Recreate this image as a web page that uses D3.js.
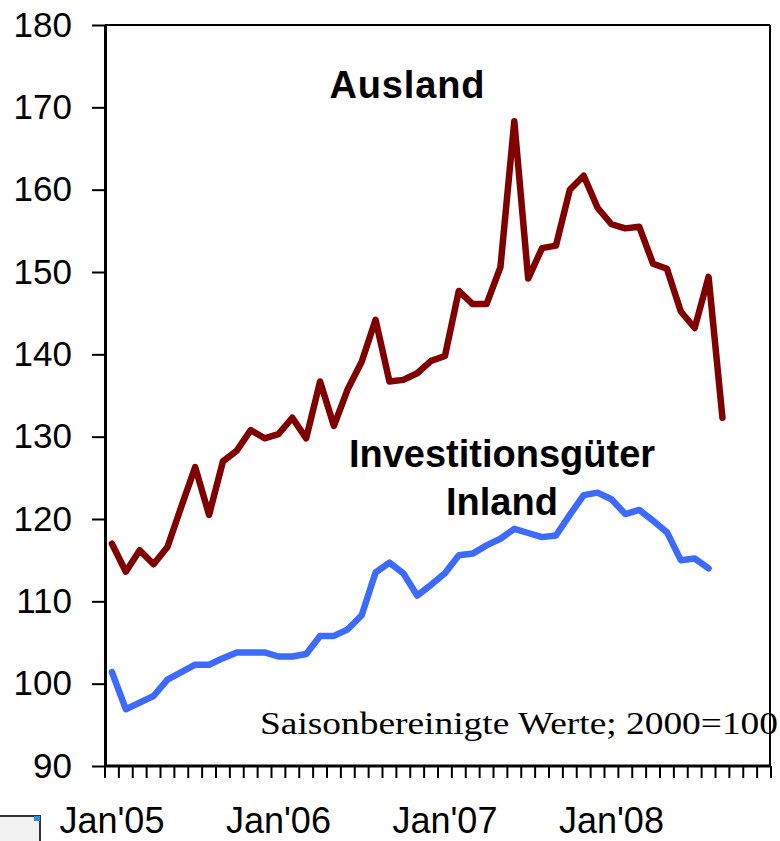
<!DOCTYPE html>
<html>
<head>
<meta charset="utf-8">
<script src="https://cdn.jsdelivr.net/npm/d3@7"></script>
<style>
  body { margin: 0; background: #fff; }
  svg text { font-family: Arial, "Liberation Sans", sans-serif; }
</style>
</head>
<body>
<div id="chart"></div>
<script>
// months Jan'05 .. Dec'08
const months = d3.range(48).map(i => new Date(2005, i, 1));
const monthKeys = months.map(d => d3.timeFormat("%Y-%m")(d));

// Investitionsgüter Ausland (2000=100)
const ausland = [117.0, 113.6, 116.2, 114.5, 116.6, 121.5, 126.3, 120.5, 127.0, 128.3,
  130.8, 129.8, 130.3, 132.3, 129.8, 136.7, 131.3, 135.8, 139.1, 144.2,
  136.7, 136.9, 137.7, 139.2, 139.8, 147.7, 146.1, 146.1, 150.6, 168.3,
  149.2, 152.9, 153.2, 160.0, 161.7, 157.8, 155.8, 155.3, 155.5, 151.0,
  150.4, 145.2, 143.2, 149.4, 132.3];

// Investitionsgüter Inland (2000=100)
const inland = [101.4, 96.9, 97.7, 98.5, 100.5, 101.4, 102.3, 102.3, 103.1, 103.8,
  103.8, 103.8, 103.3, 103.3, 103.6, 105.8, 105.8, 106.6, 108.3, 113.5,
  114.7, 113.4, 110.7, 112.0, 113.4, 115.6, 115.8, 116.8, 117.6, 118.8,
  118.3, 117.8, 118.0, 120.5, 122.9, 123.2, 122.4, 120.6, 121.1, 119.8,
  118.4, 115.0, 115.2, 114.0];

const yTicks = [90, 100, 110, 120, 130, 140, 150, 160, 170, 180];
const xLabels = ["Jan'05", "Jan'06", "Jan'07", "Jan'08"];
const xLabelKeys = ["2005-01", "2006-01", "2007-01", "2008-01"];

const W = 780, H = 841;
const m = { left: 105, right: 771, top: 25, bottom: 766 };

const svg = d3.select("#chart").append("svg")
  .attr("width", W).attr("height", H);

const x = d3.scaleBand().domain(monthKeys).range([m.left, m.right]).padding(0);
const y = d3.scaleLinear().domain([90, 180]).range([m.bottom, m.top]);
const cx = k => x(k) + x.bandwidth() / 2;

// frame: top and right border
svg.append("line").attr("x1", m.left).attr("x2", m.right - 1)
  .attr("y1", y(180)).attr("y2", y(180))
  .attr("stroke", "#000").attr("stroke-width", 2);
svg.append("line").attr("x1", m.right - 1).attr("x2", m.right - 1)
  .attr("y1", y(180)).attr("y2", y(90))
  .attr("stroke", "#000").attr("stroke-width", 2);

// y axis
const yAxis = svg.append("g")
  .attr("transform", `translate(${m.left},0)`)
  .call(d3.axisLeft(y).tickValues(yTicks).tickSize(13).tickPadding(20).tickSizeOuter(0));
yAxis.select(".domain").attr("stroke-width", 3);
yAxis.selectAll(".tick line").attr("stroke-width", 2);
yAxis.selectAll(".tick text")
  .style("font-size", "35px").attr("fill", "#000");

// x axis: ticks at every month boundary
const bounds = monthKeys.map(k => x(k)).concat([m.right]);
svg.append("line").attr("x1", m.left).attr("x2", m.right)
  .attr("y1", m.bottom).attr("y2", m.bottom)
  .attr("stroke", "#000").attr("stroke-width", 3);
svg.selectAll(".xtick").data(bounds).enter().append("line")
  .attr("class", "xtick")
  .attr("x1", d => d).attr("x2", d => d)
  .attr("y1", m.bottom).attr("y2", m.bottom + 12)
  .attr("stroke", "#000").attr("stroke-width", 2);

svg.selectAll(".xlab").data(xLabels).enter().append("text")
  .attr("class", "xlab")
  .attr("x", (d, i) => cx(xLabelKeys[i]))
  .attr("y", 833)
  .attr("text-anchor", "middle")
  .style("font-size", "36px")
  .text(d => d);

// lines
const line = d3.line()
  .x((d, i) => cx(monthKeys[i]))
  .y(d => y(d));

svg.append("path").datum(inland)
  .attr("d", line).attr("fill", "none")
  .attr("stroke", "#3d6bff").attr("stroke-width", 6.5)
  .attr("stroke-linejoin", "round").attr("stroke-linecap", "round");

svg.append("path").datum(ausland)
  .attr("d", line).attr("fill", "none")
  .attr("stroke", "#800000").attr("stroke-width", 6.5)
  .attr("stroke-linejoin", "round").attr("stroke-linecap", "round");

// labels
svg.append("text").attr("x", 407).attr("y", 98)
  .attr("text-anchor", "middle")
  .style("font-size", "38px").style("font-weight", "bold")
  .attr("textLength", 155).attr("lengthAdjust", "spacing")
  .text("Ausland");
svg.append("text").attr("x", 502).attr("y", 467)
  .attr("text-anchor", "middle")
  .style("font-size", "38px").style("font-weight", "bold")
  .text("Investitionsgüter");
svg.append("text").attr("x", 502).attr("y", 515)
  .attr("text-anchor", "middle")
  .style("font-size", "38px").style("font-weight", "bold")
  .text("Inland");

svg.append("text").attr("x", 260).attr("y", 734)
  .style("font-family", "'Liberation Serif', 'Times New Roman', serif")
  .style("font-size", "32px")
  .attr("textLength", 518).attr("lengthAdjust", "spacingAndGlyphs")
  .text("Saisonbereinigte Werte; 2000=100");

// small window icon at bottom-left
const icon = svg.append("g");
icon.append("rect").attr("x", -2).attr("y", 816).attr("width", 42).attr("height", 30)
  .attr("fill", "#f2f2f2").attr("stroke", "#333").attr("stroke-width", 2);
icon.append("rect").attr("x", 34).attr("y", 816).attr("width", 6).attr("height", 5)
  .attr("fill", "#2a8fd6");
</script>
</body>
</html>
